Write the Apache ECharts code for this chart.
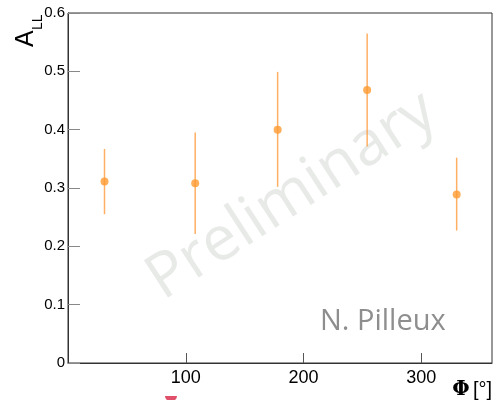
<!DOCTYPE html>
<html>
<head>
<meta charset="utf-8">
<script src="https://cdn.jsdelivr.net/npm/echarts@6/dist/echarts.min.js"></script>
<style>
  html, body { margin: 0; padding: 0; background: #fff; }
  #chart { width: 500px; height: 400px; }
</style>
</head>
<body>
<div id="chart"></div>
<script>
// Double-spin asymmetry A_LL versus azimuthal angle Phi
const phi    = [31, 108, 178, 254, 330];
const aLL    = [0.311, 0.308, 0.400, 0.468, 0.289];
const errLow = [0.255, 0.221, 0.302, 0.371, 0.227];
const errHigh = [0.367, 0.395, 0.499, 0.565, 0.352];

const xTicks = [100, 200, 300];
const yTicks = ['0', '0.1', '0.2', '0.3', '0.4', '0.5', '0.6'];

const points = phi.map((p, i) => [p, aLL[i]]);
const bars = phi.map((p, i) => [p, errLow[i], errHigh[i]]);

const orange = '#ff9a30';
const barColor = 'rgba(255,150,50,0.75)';
const axisFont = '"Liberation Sans", Arial, Helvetica, sans-serif';

const chart = echarts.init(document.getElementById('chart'), null, { renderer: 'canvas' });

chart.setOption({
  animation: false,
  backgroundColor: '#ffffff',
  grid: {
    left: 68, top: 13, right: 8, bottom: 37,
    show: true, borderColor: '#333', borderWidth: 1
  },
  xAxis: {
    type: 'value', min: 0, max: 360, interval: 100,
    axisLine: { show: true, lineStyle: { color: '#333', width: 1 } },
    axisTick: { show: true, inside: true, length: 10, lineStyle: { color: '#555' } },
    splitLine: { show: false },
    axisLabel: {
      color: '#000', fontSize: 18, fontFamily: axisFont, margin: 6,
      showMinLabel: false, showMaxLabel: false,
      formatter: v => (xTicks.indexOf(v) >= 0 ? String(v) : '')
    }
  },
  yAxis: {
    type: 'value', min: 0, max: 0.6, interval: 0.1,
    axisLine: { show: true, lineStyle: { color: '#333', width: 1 } },
    axisTick: { show: true, inside: true, length: 12, lineStyle: { color: '#888' } },
    splitLine: { show: false },
    axisLabel: {
      color: '#000', fontSize: 15, fontFamily: axisFont, margin: 3,
      formatter: v => yTicks[Math.round(v * 10)]
    }
  },
  series: [
    {
      type: 'custom',
      z: 3,
      data: bars,
      renderItem: (params, api) => {
        const x = api.value(0);
        const lo = api.coord([x, api.value(1)]);
        const hi = api.coord([x, api.value(2)]);
        return {
          type: 'line',
          shape: { x1: lo[0], y1: lo[1], x2: hi[0], y2: hi[1] },
          style: { stroke: barColor, lineWidth: 1.5 }
        };
      }
    },
    {
      type: 'scatter',
      z: 4,
      data: points,
      symbol: 'circle',
      symbolSize: 8,
      itemStyle: { color: orange }
    }
  ],
  graphic: [
    {
      type: 'text', z: 0, silent: true,
      x: 292, y: 196, rotation: 33 * Math.PI / 180,
      style: {
        text: 'Preliminary', fill: 'rgba(200,205,200,0.42)',
        font: '62px "Open Sans", sans-serif',
        align: 'center', verticalAlign: 'middle'
      }
    },
    {
      type: 'text', z: 10,
      x: 320, y: 322,
      style: {
        text: 'N. Pilleux', fill: '#8e8e8e',
        font: '29px "Open Sans", sans-serif',
        align: 'left', verticalAlign: 'middle'
      }
    },
    {
      type: 'text', z: 10,
      x: 39, y: 47, rotation: Math.PI / 2,
      style: {
        text: 'A', fill: '#000',
        font: '25px ' + axisFont,
        align: 'left', verticalAlign: 'bottom'
      }
    },
    {
      type: 'text', z: 10,
      x: 45, y: 30, rotation: Math.PI / 2,
      style: {
        text: 'LL', fill: '#000',
        font: '14px ' + axisFont,
        align: 'left', verticalAlign: 'bottom'
      }
    },
    {
      type: 'text', z: 10,
      x: 492, y: 400,
      style: {
        text: '{p|Φ} {b|[°]}',
        align: 'right', verticalAlign: 'bottom',
        rich: {
          p: { font: 'bold 20px "DejaVu Serif", serif', fill: '#000' },
          b: { font: '20px ' + axisFont, fill: '#000' }
        }
      }
    },
    {
      type: 'rect', z: 10,
      shape: { x: 165, y: 396, width: 12, height: 5, r: [0, 0, 6, 6] },
      style: { fill: '#e0506a' }
    }
  ]
});
</script>
</body>
</html>
